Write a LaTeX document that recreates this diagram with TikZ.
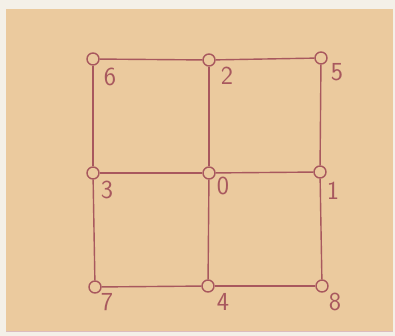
\documentclass[tikz,border=0pt]{standalone}
\begin{document}
\begin{tikzpicture}[x=1pt,y=-1pt,
  ink/.style={draw=inkc,line width=1.4pt},
  vtx/.style={circle,draw=inkc,line width=1.4pt,minimum size=12pt,inner sep=0pt,fill=paper},
  lbl/.style={text=inkc,font=\sffamily\fontsize{26}{26}\selectfont,inner sep=0pt}]
\definecolor{paper}{HTML}{EBCA9E}
\definecolor{inkc}{HTML}{A8585E}
\definecolor{offw}{HTML}{F4F0E8}
\useasboundingbox (0,0) rectangle (395,336);
\fill[offw] (0,0) rectangle (395,336);
\fill[paper] (6,9) rectangle (393,331);
\draw[inkc!40,line width=1pt] (6,331) -- (393,331);
% vertices
\node[vtx] (v6) at (93,59) {};
\node[vtx] (v2) at (209,60) {};
\node[vtx] (v5) at (321,58) {};
\node[vtx] (v3) at (93,173) {};
\node[vtx] (v0) at (209,173) {};
\node[vtx] (v1) at (320,172) {};
\node[vtx] (v7) at (95,287) {};
\node[vtx] (v4) at (208,286) {};
\node[vtx] (v8) at (322,286) {};
% edges
\draw[ink] (v6) -- (v2);
\draw[ink] (v2) -- (v5);
\draw[ink] (v3) -- (v0);
\draw[ink] (v0) -- (v1);
\draw[ink] (v7) -- (v4);
\draw[ink] (v4) -- (v8);
\draw[ink] (v6) -- (v3);
\draw[ink] (v3) -- (v7);
\draw[ink] (v2) -- (v0);
\draw[ink] (v0) -- (v4);
\draw[ink] (v5) -- (v1);
\draw[ink] (v1) -- (v8);
% labels
\node[lbl] (l6) at (110,77) {6};
\node[lbl] (l2) at (227,76) {2};
\node[lbl] (l5) at (337,72) {5};
\node[lbl] (l3) at (107,190) {3};
\node[lbl] (l0) at (223,186) {0};
\node[lbl] (l1) at (333,191) {1};
\node[lbl] (l7) at (107,302) {7};
\node[lbl] (l4) at (223,302) {4};
\node[lbl] (l8) at (335,302) {8};
\end{tikzpicture}
\end{document}
